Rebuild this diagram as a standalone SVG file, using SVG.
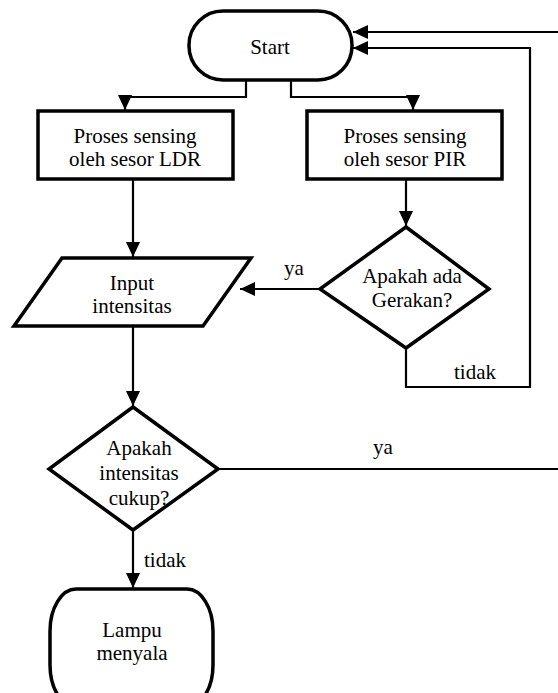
<svg xmlns="http://www.w3.org/2000/svg" width="558" height="693" viewBox="0 0 558 693">
<style>
.shape{fill:#fff;stroke:#000;stroke-width:3.5;stroke-linejoin:miter}
.conn{fill:none;stroke:#000;stroke-width:2.2}
text{font-family:"Liberation Serif","Times New Roman",serif;font-size:21px;fill:#000}
.c{text-anchor:middle}
</style>
<defs>
<marker id="arr" markerUnits="userSpaceOnUse" markerWidth="16" markerHeight="16" viewBox="0 0 16 16" refX="15" refY="8" orient="auto">
<path d="M0,1 L15,8 L0,15 Z" fill="#000"/>
</marker>
</defs>
<rect width="558" height="693" fill="#fff"/>
<g id="connectors">
<path class="conn" d="M246,80 V97 H125 V110" marker-end="url(#arr)"/>
<path class="conn" d="M291,80 V97 H413 V110" marker-end="url(#arr)"/>
<path class="conn" d="M133,179 V257" marker-end="url(#arr)"/>
<path class="conn" d="M406,179 V226" marker-end="url(#arr)"/>
<path class="conn" d="M320,289 H240" marker-end="url(#arr)"/>
<path class="conn" d="M406,348 V387 H530 V48 H353" marker-end="url(#arr)"/>
<path class="conn" d="M558,32 H353" marker-end="url(#arr)"/>
<path class="conn" d="M133,326 V406" marker-end="url(#arr)"/>
<path class="conn" d="M218,469 H558"/>
<path class="conn" d="M133,530 V588" marker-end="url(#arr)"/>
<text x="294" y="275" class="c">ya</text>
<text x="454" y="379">tidak</text>
<text x="383" y="454" class="c">ya</text>
<text x="144" y="567">tidak</text>
</g>
<g id="start">
<rect class="shape" x="189" y="11" width="163" height="69" rx="34" ry="34"/>
<text x="270" y="54" class="c">Start</text>
</g>
<g id="ldr">
<rect class="shape" x="38" y="111" width="195" height="68"/>
<text x="135" y="143" class="c">Proses sensing</text>
<text x="135" y="166" class="c">oleh sesor LDR</text>
</g>
<g id="pir">
<rect class="shape" x="307" y="111" width="195" height="68"/>
<text x="405" y="143" class="c">Proses sensing</text>
<text x="405" y="166" class="c">oleh sesor PIR</text>
</g>
<g id="gerakan">
<polygon class="shape" points="406,227 489,289 406,348 320,289"/>
<text x="412" y="283" class="c">Apakah ada</text>
<text x="412" y="307" class="c">Gerakan?</text>
</g>
<g id="input">
<polygon class="shape" points="62,258 251,258 203,326 14,326"/>
<text x="132" y="290" class="c">Input</text>
<text x="132" y="313" class="c">intensitas</text>
</g>
<g id="intensitas">
<polygon class="shape" points="133,407 218,469 133,530 49,469"/>
<text x="139" y="455" class="c">Apakah</text>
<text x="139" y="480" class="c">intensitas</text>
<text x="139" y="505" class="c">cukup?</text>
</g>
<g id="lampu">
<rect class="shape" x="50" y="589" width="163" height="118" rx="26" ry="42"/>
<text x="132" y="637" class="c">Lampu</text>
<text x="132" y="660" class="c">menyala</text>
</g>
</svg>
